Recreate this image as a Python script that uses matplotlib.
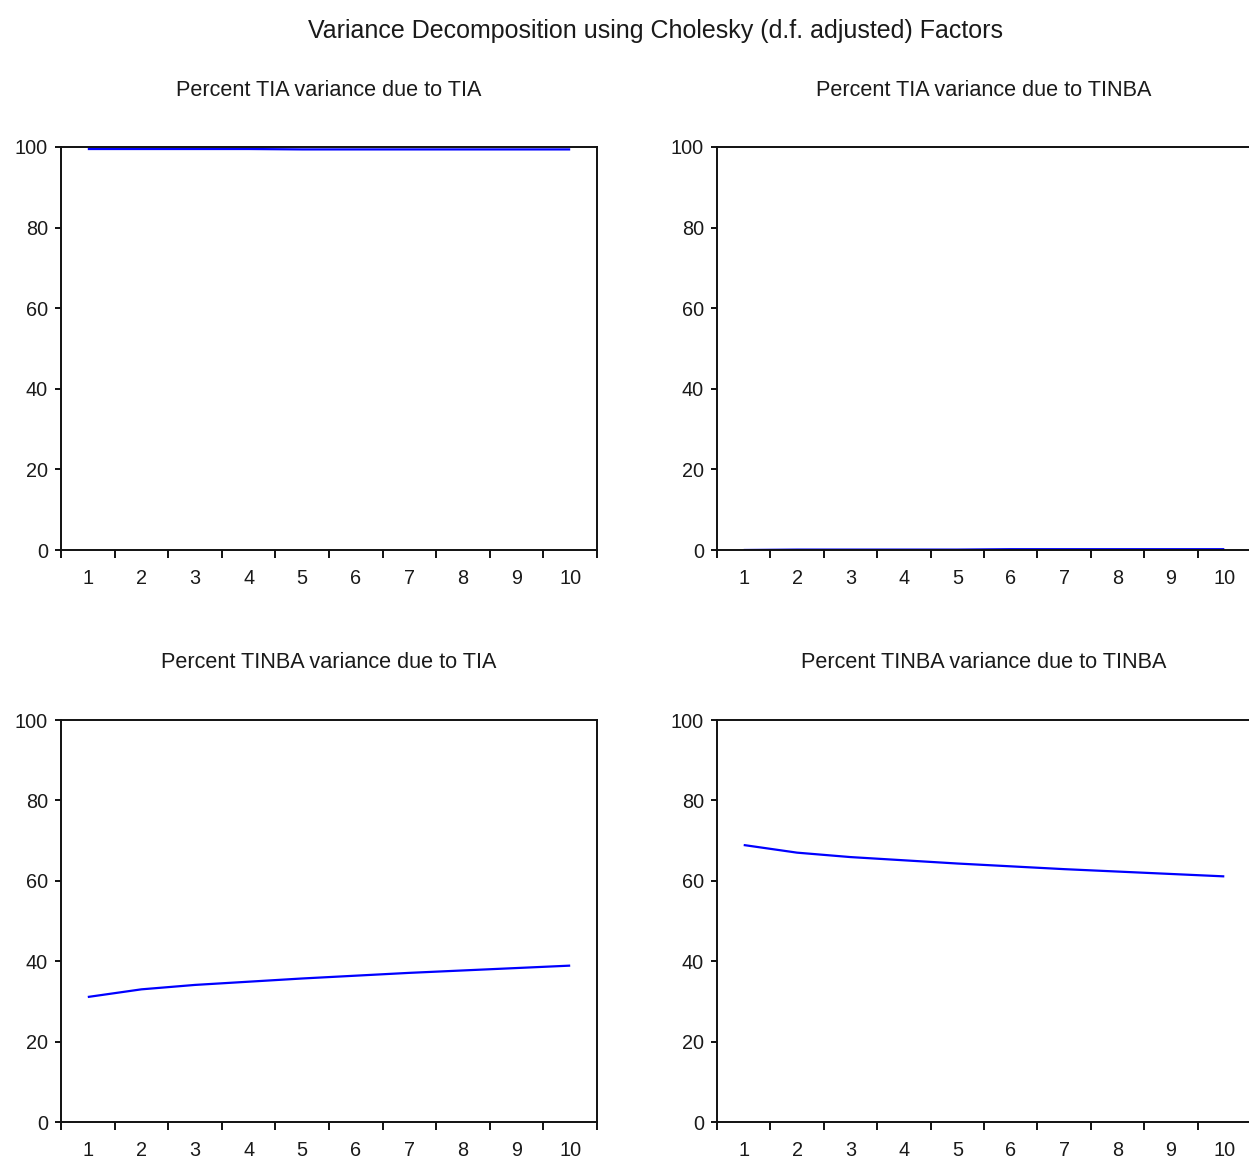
import matplotlib
matplotlib.use("Agg")
import matplotlib.pyplot as plt
from matplotlib import font_manager

# Forecast horizon (periods) and variance-decomposition shares (percent)
periods = list(range(1, 11))
tia_due_to_tia = [99.5, 99.5, 99.5, 99.5, 99.4, 99.4, 99.4, 99.4, 99.4, 99.4]
tia_due_to_tinba = [0.0, 0.1, 0.1, 0.1, 0.1, 0.2, 0.2, 0.2, 0.2, 0.2]
tinba_due_to_tia = [31.1, 33.0, 34.1, 34.9, 35.7, 36.4, 37.1, 37.7, 38.3, 38.9]
tinba_due_to_tinba = [68.9, 67.0, 65.9, 65.1, 64.3, 63.6, 62.9, 62.3, 61.7, 61.1]

y_ticks = [0, 20, 40, 60, 80, 100]

suptitle = "Variance Decomposition using Cholesky (d.f. adjusted) Factors"
panel_titles = [
    "Percent TIA variance due to TIA",
    "Percent TIA variance due to TINBA",
    "Percent TINBA variance due to TIA",
    "Percent TINBA variance due to TINBA",
]
panel_series = [tia_due_to_tia, tia_due_to_tinba, tinba_due_to_tia, tinba_due_to_tinba]

# Pick a narrow sans face when available
available = {f.name for f in font_manager.fontManager.ttflist}
if "Liberation Sans Narrow" in available:
    family, scale = "Liberation Sans Narrow", 1.0
else:
    family, scale = "Liberation Sans", 0.82
plt.rcParams["font.family"] = [family, "DejaVu Sans"]

W, H = 1249, 1159
fig = plt.figure(figsize=(W / 100, H / 100), dpi=100)
fig.patch.set_facecolor("white")


def fx(px):
    return px / W


def fy(py):
    return 1 - py / H


# Axes boxes in pixel coordinates: (left, top, right, bottom)
boxes = [
    (61, 147, 597, 550),
    (717, 147, 1251, 550),
    (61, 720, 597, 1122),
    (717, 720, 1251, 1122),
]
title_pos = [(329, 90), (984, 90), (329, 662), (984, 662)]

text_color = "#1a1a1a"
spine_color = "#111111"

for (l, t, r, b), title, series, (tx, ty) in zip(boxes, panel_titles, panel_series, title_pos):
    ax = fig.add_axes([fx(l), fy(b), (r - l) / W, (b - t) / H])
    ax.plot(periods, series, color="#0000ff", lw=1.6, zorder=1, solid_capstyle="butt")
    ax.set_xlim(0.5, 10.5)
    ax.set_ylim(0, 100)

    # Tick marks sit between periods; labels sit on the periods
    ax.set_xticks([p - 0.5 for p in periods] + [periods[-1] + 0.5])
    ax.set_xticklabels([])
    ax.set_xticks(periods, minor=True)
    ax.set_xticklabels([str(p) for p in periods], minor=True)
    ax.tick_params(axis="x", which="major", direction="out", length=6, width=1.4,
                   color=spine_color)
    ax.tick_params(axis="x", which="minor", length=0, pad=14,
                   labelsize=17.5 * scale, labelcolor=text_color)

    ax.set_yticks(y_ticks)
    ax.set_yticklabels([str(v) for v in y_ticks])
    ax.tick_params(axis="y", direction="out", length=4.5, width=1.4, pad=5,
                   labelsize=17.5 * scale, labelcolor=text_color, color=spine_color)

    for sp in ax.spines.values():
        sp.set_color(spine_color)
        sp.set_linewidth(1.4)
        sp.set_zorder(3)

    fig.text(fx(tx), fy(ty), title, ha="center", va="center",
             fontsize=19 * scale, color=text_color)

fig.text(fx(655), fy(31), suptitle, ha="center", va="center",
         fontsize=22 * scale, color=text_color)

fig.savefig("out.png", dpi=100, facecolor="white")
